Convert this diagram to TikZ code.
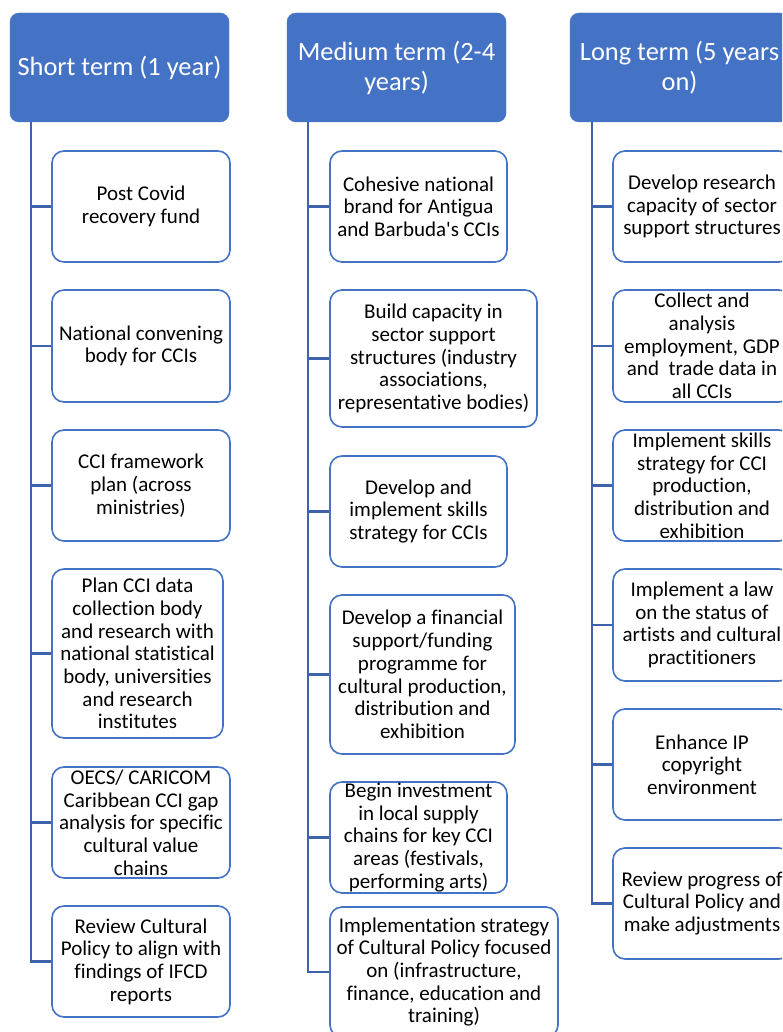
\documentclass[tikz,border=0pt]{standalone}
\usepackage{fontspec}
\setmainfont{Carlito}[Ligatures={NoCommon}]
\definecolor{hdrblue}{HTML}{4472C4}
\definecolor{boxblue}{HTML}{4472C4}
\definecolor{lineblue}{HTML}{3F62AC}
\begin{document}
\begin{tikzpicture}[x=1pt,y=-1pt,
  hdr/.style={draw=hdrblue, fill=hdrblue, rounded corners=9pt, minimum width=219pt, minimum height=109pt, text=white, font=\fontsize{26.4}{30}\selectfont, align=center, inner sep=1pt},
  item/.style={draw=boxblue, line width=1.6pt, fill=white, rounded corners=12pt, align=center, inner xsep=1pt, inner ysep=0pt, font=\fontsize{21}{22.7}\selectfont},
  conn/.style={draw=lineblue, line width=2.2pt}]
\useasboundingbox (0,0) rectangle (782,1032);
\clip (0,0) rectangle (782,1032);
\fill[white] (0,0) rectangle (782,1032);

% headers
\node[hdr] (h1) at (119.5,67.5) {Short term (1 year)};
\node[hdr] (h2) at (396.5,67.5) {Medium term (2-4\\years)};
\node[hdr] (h3) at (679.5,67.5) {Long term (5 years\\on)};

\coordinate (t1) at (31,122);
\coordinate (t2) at (308,122);
\coordinate (t3) at (592,122);

% column 1
\node[item, minimum width=178pt, minimum height=111pt] (b11) at (141,206.5) {Post Covid\\recovery fund};
\node[item, minimum width=178pt, minimum height=112pt] (b12) at (141,346) {National convening\\body for CCIs};
\node[item, minimum width=178pt, minimum height=111pt] (b13) at (141,485.5) {CCI framework\\plan (across\\ministries)};
\node[item, minimum width=171pt, minimum height=169pt] (b14) at (137.5,653.5) {Plan CCI data\\collection body\\and research with\\national statistical\\body, universities\\and research\\institutes};
\node[item, minimum width=178pt, minimum height=111pt] (b15) at (141,822.5) {OECS/ CARICOM\\Caribbean CCI gap\\analysis for specific\\cultural value\\chains};
\node[item, minimum width=178pt, minimum height=111pt] (b16) at (141,961.5) {Review Cultural\\Policy to align with\\findings of IFCD\\reports};

% column 2
\node[item, minimum width=177pt, minimum height=111pt] (b21) at (418.5,206.5) {Cohesive national\\brand for Antigua\\and Barbuda\textquotesingle s CCIs};
\node[item, minimum width=207pt, minimum height=137pt] (b22) at (433.5,358.5) {Build capacity in\\sector support\\structures (industry\\associations,\\representative bodies)};
\node[item, minimum width=177pt, minimum height=111pt] (b23) at (418.5,511.5) {Develop and\\implement skills\\strategy for CCIs};
\node[item, minimum width=185pt, minimum height=159pt] (b24) at (422.5,674.5) {Develop a financial\\support/funding\\programme for\\cultural production,\\distribution and\\exhibition};
\node[item, minimum width=177pt, minimum height=111pt] (b25) at (418.5,837.5) {Begin investment\\in local supply\\chains for key CCI\\areas (festivals,\\performing arts)};
\node[item, minimum width=228pt, minimum height=130pt] (b26) at (444,972) {Implementation strategy\\of Cultural Policy focused\\on (infrastructure,\\finance, education and\\training)};

% column 3
\node[item, minimum width=178pt, minimum height=111pt] (b31) at (702,206.5) {Develop research\\capacity of sector\\support structures};
\node[item, minimum width=178pt, minimum height=112pt] (b32) at (702,346) {Collect and\\analysis\\employment, GDP\\and\ \ trade data in\\all CCIs};
\node[item, minimum width=178pt, minimum height=111pt] (b33) at (702,485.5) {Implement skills\\strategy for CCI\\production,\\distribution and\\exhibition};
\node[item, minimum width=178pt, minimum height=112pt] (b34) at (702,625) {Implement a law\\on the status of\\artists and cultural\\practitioners};
\node[item, minimum width=178pt, minimum height=111pt] (b35) at (702,764.5) {Enhance IP\\copyright\\environment};
\node[item, minimum width=178pt, minimum height=111pt] (b36) at (702,903.5) {Review progress of\\Cultural Policy and\\make adjustments};

% connectors
\foreach \b in {b11,b12,b13,b14,b15,b16} \draw[conn] (t1) |- (\b.west);
\foreach \b in {b21,b22,b23,b24,b25,b26} \draw[conn] (t2) |- (\b.west);
\foreach \b in {b31,b32,b33,b34,b35,b36} \draw[conn] (t3) |- (\b.west);
\end{tikzpicture}
\end{document}
